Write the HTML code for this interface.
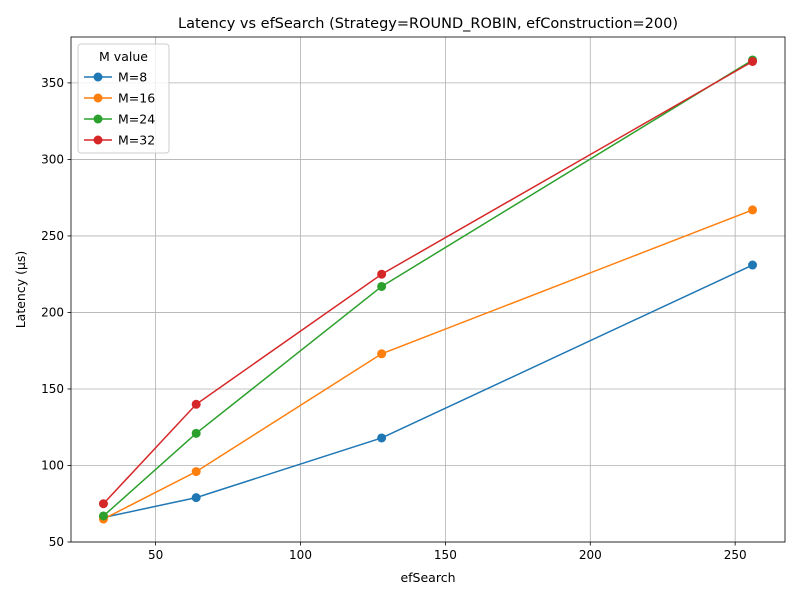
<!DOCTYPE html>
<html><head><meta charset="utf-8"><style>
body{margin:0;background:#fff;font-family:"Liberation Sans","DejaVu Sans",sans-serif;}
</style></head><body>
<svg id="chart" width="800" height="600" xmlns="http://www.w3.org/2000/svg" font-family="DejaVu Sans, Liberation Sans, sans-serif"></svg>
<script>
const xValues=[32,64,128,256];
const seriesNames=["M=8","M=16","M=24","M=32"];
const seriesColors=["#1f77b4","#ff7f0e","#2ca02c","#d62728"];
const m8=[66,79,118,231];
const m16=[65,96,173,267];
const m24=[67,121,217,365];
const m32=[75,140,225,364];
const xTicks=[50,100,150,200,250];
const yTicks=[50,100,150,200,250,300,350];
const series=[m8,m16,m24,m32];
const L=71,R=785,T=37,B=542,xmin=20.8,xmax=267.2,ymin=50,ymax=380;
const sx=v=>L+(v-xmin)/(xmax-xmin)*(R-L);
const sy=v=>B-(v-ymin)/(ymax-ymin)*(B-T);
const svg=document.getElementById('chart');
const NS="http://www.w3.org/2000/svg";
function mk(tag,attrs,parent){const e=document.createElementNS(NS,tag);for(const k in attrs)e.setAttribute(k,attrs[k]);(parent||svg).appendChild(e);return e;}
const grid=mk('g',{});


xTicks.forEach(t=>{
 mk('line',{x1:sx(t),x2:sx(t),y1:T,y2:B,stroke:'#b0b0b0','stroke-width':0.8},grid);
 mk('line',{x1:sx(t),x2:sx(t),y1:B,y2:B+3.5,stroke:'#000','stroke-width':0.8});
 const tx=mk('text',{x:sx(t),y:B+17,'text-anchor':'middle','font-size':12});
 tx.textContent=t;
 
 
});
yTicks.forEach(t=>{
 mk('line',{x1:L,x2:R,y1:sy(t),y2:sy(t),stroke:'#b0b0b0','stroke-width':0.8},grid);
 mk('line',{x1:L-3.5,x2:L,y1:sy(t),y2:sy(t),stroke:'#000','stroke-width':0.8});
 const tx=mk('text',{x:L-7,y:sy(t)+4,'text-anchor':'end','font-size':12});
 tx.textContent=t;
 
 
});
series.forEach((s,i)=>{
 const g=mk('g',{});
 
 
 mk('polyline',{points:s.map((v,j)=>sx(xValues[j])+','+sy(v)).join(' '),fill:'none',stroke:seriesColors[i],'stroke-width':1.5},g);
 s.forEach((v,j)=>{
  const c=mk('circle',{cx:sx(xValues[j]),cy:sy(v),r:4.5,fill:seriesColors[i]},g);
  
  
 });
});
const frame=mk('rect',{x:L,y:T,width:R-L,height:B-T,fill:'none',stroke:'#000','stroke-width':0.8});


const title=mk('text',{x:(L+R)/2,y:T-9,'text-anchor':'middle','font-size':14.5});
title.textContent='Latency vs efSearch (Strategy=ROUND_ROBIN, efConstruction=200)';


const xt=mk('text',{x:(L+R)/2,y:582,'text-anchor':'middle','font-size':12.5});
xt.textContent='efSearch';


const yt=mk('text',{x:25,y:(T+B)/2,'text-anchor':'middle','font-size':12.5,transform:'rotate(-90 25 '+(T+B)/2+')'});
yt.textContent='Latency (µs)';


const lg=mk('g',{});


mk('rect',{x:78,y:44,width:91,height:109,rx:3,fill:'#fff','fill-opacity':0.8,stroke:'#ccc'},lg);
const lt=mk('text',{x:123.5,y:61,'text-anchor':'middle','font-size':12.5},lg);
lt.textContent='M value';
seriesNames.forEach((n,i)=>{
 const y=77+i*21;
 const e=mk('g',{},lg);
 
 
 mk('line',{x1:84,x2:112,y1:y,y2:y,stroke:seriesColors[i],'stroke-width':1.5},e);
 mk('circle',{cx:98,cy:y,r:4.5,fill:seriesColors[i]},e);
 const t=mk('text',{x:118,y:y+4.5,'font-size':12.5},e);
 t.textContent=n;
});
</script>
</body></html>
